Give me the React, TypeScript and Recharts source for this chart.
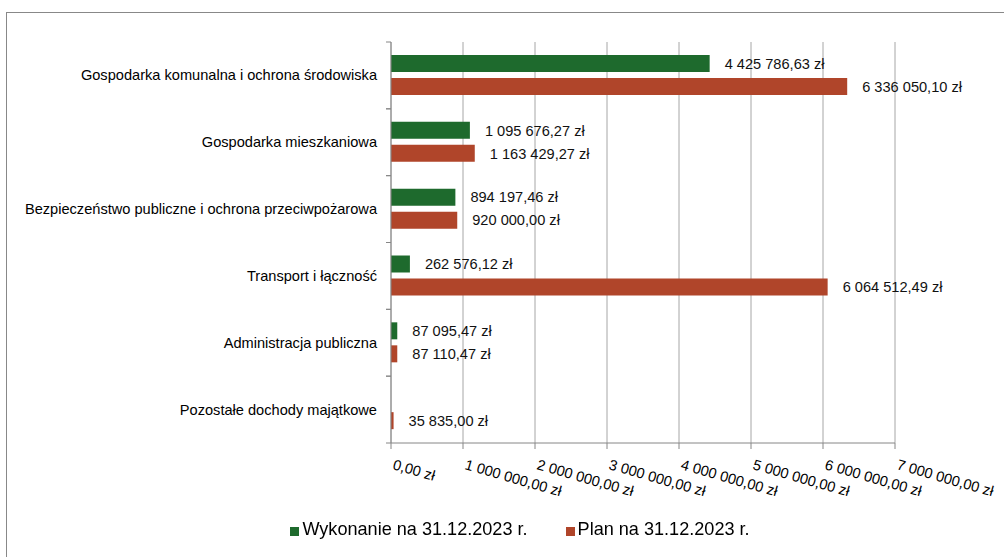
import { BarChart, Bar, XAxis, YAxis, CartesianGrid, Legend, LabelList } from 'recharts'

const categories = [
  'Gospodarka komunalna i ochrona środowiska',
  'Gospodarka mieszkaniowa',
  'Bezpieczeństwo publiczne i ochrona przeciwpożarowa',
  'Transport i łączność',
  'Administracja publiczna',
  'Pozostałe dochody majątkowe',
]
const wykonanie = [4425786.63, 1095676.27, 894197.46, 262576.12, 87095.47, null]
const plan = [6336050.1, 1163429.27, 920000.0, 6064512.49, 87110.47, 35835.0]
const xTicks = [0, 1000000, 2000000, 3000000, 4000000, 5000000, 6000000, 7000000]

const seriesNames = ['Wykonanie na 31.12.2023 r.', 'Plan na 31.12.2023 r.']

const data = categories.map((name, i) => ({
  name,
  wykonanie: wykonanie[i],
  plan: plan[i],
}))

const FONT = '"Liberation Sans", Arial, sans-serif'
const GREEN = '#1e6a2d'
const RED = '#b0452a'
const AXIS = '#868686'

function formatZl(v: number | null | undefined) {
  if (v === null || v === undefined) return ''
  const [int, dec] = Number(v).toFixed(2).split('.')
  const grouped = int.replace(/\B(?=(\d{3})+(?!\d))/g, ' ')
  return `${grouped},${dec} zł`
}

// category label + tick marks on the band boundaries
function CategoryTick(props: any) {
  const { x, y, payload } = props
  const half = payload && payload.offset ? payload.offset : 33.4
  const axisX = x + 14
  return (
    <g>
      <line x1={axisX - 5} x2={axisX} y1={y - half} y2={y - half} stroke={AXIS} />
      <line x1={axisX - 5} x2={axisX} y1={y + half} y2={y + half} stroke={AXIS} />
      <text x={x} y={y} dy={5} textAnchor="end" fill="#000" fontSize={14.6} fontFamily={FONT}>
        {payload.value}
      </text>
    </g>
  )
}

function MoneyTick(props: any) {
  const { x, y, payload } = props
  const tx = x + 1
  const ty = y + 20
  return (
    <text
      x={tx}
      y={ty}
      transform={`rotate(16, ${tx}, ${ty})`}
      textAnchor="start"
      fill="#000"
      fontSize={14.6}
      fontFamily={FONT}
    >
      {formatZl(payload.value)}
    </text>
  )
}

function LegendContent(props: any) {
  const items = [...(props.payload || [])].sort(
    (a: any, b: any) => seriesNames.indexOf(a.value) - seriesNames.indexOf(b.value)
  )
  return (
    <div
      style={{
        display: 'flex',
        justifyContent: 'center',
        gap: 38,
        fontFamily: FONT,
        fontSize: 18.1,
        lineHeight: '21px',
        color: '#000',
      }}
    >
      {items.map((p: any) => (
        <span key={p.value} style={{ display: 'flex', alignItems: 'center' }}>
          <span
            style={{ width: 9, height: 9, background: p.color, marginRight: 3, marginTop: 3, display: 'inline-block' }}
          />
          {p.value}
        </span>
      ))}
    </div>
  )
}

export default function App() {
  return (
    <div
      style={{
        position: 'fixed',
        left: 6,
        top: 12,
        width: 997,
        height: 544,
        borderTop: '1px solid #888',
        borderLeft: '1px solid #888',
        background: '#fff',
      }}
    >
      <BarChart
        width={997}
        height={544}
        data={data}
        layout="vertical"
        barSize={17}
        barGap={6}
        margin={{ top: 29, right: 109, left: 0, bottom: 54 }}
      >
        <CartesianGrid horizontal={false} stroke="#a6a6a6" />
        <XAxis
          type="number"
          domain={[0, 7000000]}
          ticks={xTicks}
          interval={0}
          axisLine={{ stroke: AXIS }}
          tickLine={{ stroke: AXIS }}
          tickSize={6}
          tickMargin={0}
          height={60}
          tick={<MoneyTick />}
        />
        <YAxis
          type="category"
          dataKey="name"
          width={384}
          axisLine={{ stroke: AXIS }}
          tickLine={false}
          tickSize={5}
          tickMargin={9}
          interval={0}
          tick={<CategoryTick />}
        />
        <Legend
          layout="horizontal"
          verticalAlign="middle"
          align="center"
          wrapperStyle={{ top: 506, left: 0, width: 1026 }}
          content={<LegendContent />}
        />
        <Bar dataKey="wykonanie" name={seriesNames[0]} fill={GREEN} isAnimationActive={false}>
          <LabelList
            dataKey="wykonanie"
            position="right"
            offset={15}
            formatter={(v: any) => formatZl(v)}
            fill="#111"
            fontSize={14.6}
            fontFamily={FONT}
          />
        </Bar>
        <Bar dataKey="plan" name={seriesNames[1]} fill={RED} isAnimationActive={false}>
          <LabelList
            dataKey="plan"
            position="right"
            offset={15}
            formatter={(v: any) => formatZl(v)}
            fill="#111"
            fontSize={14.6}
            fontFamily={FONT}
          />
        </Bar>
      </BarChart>
    </div>
  )
}
